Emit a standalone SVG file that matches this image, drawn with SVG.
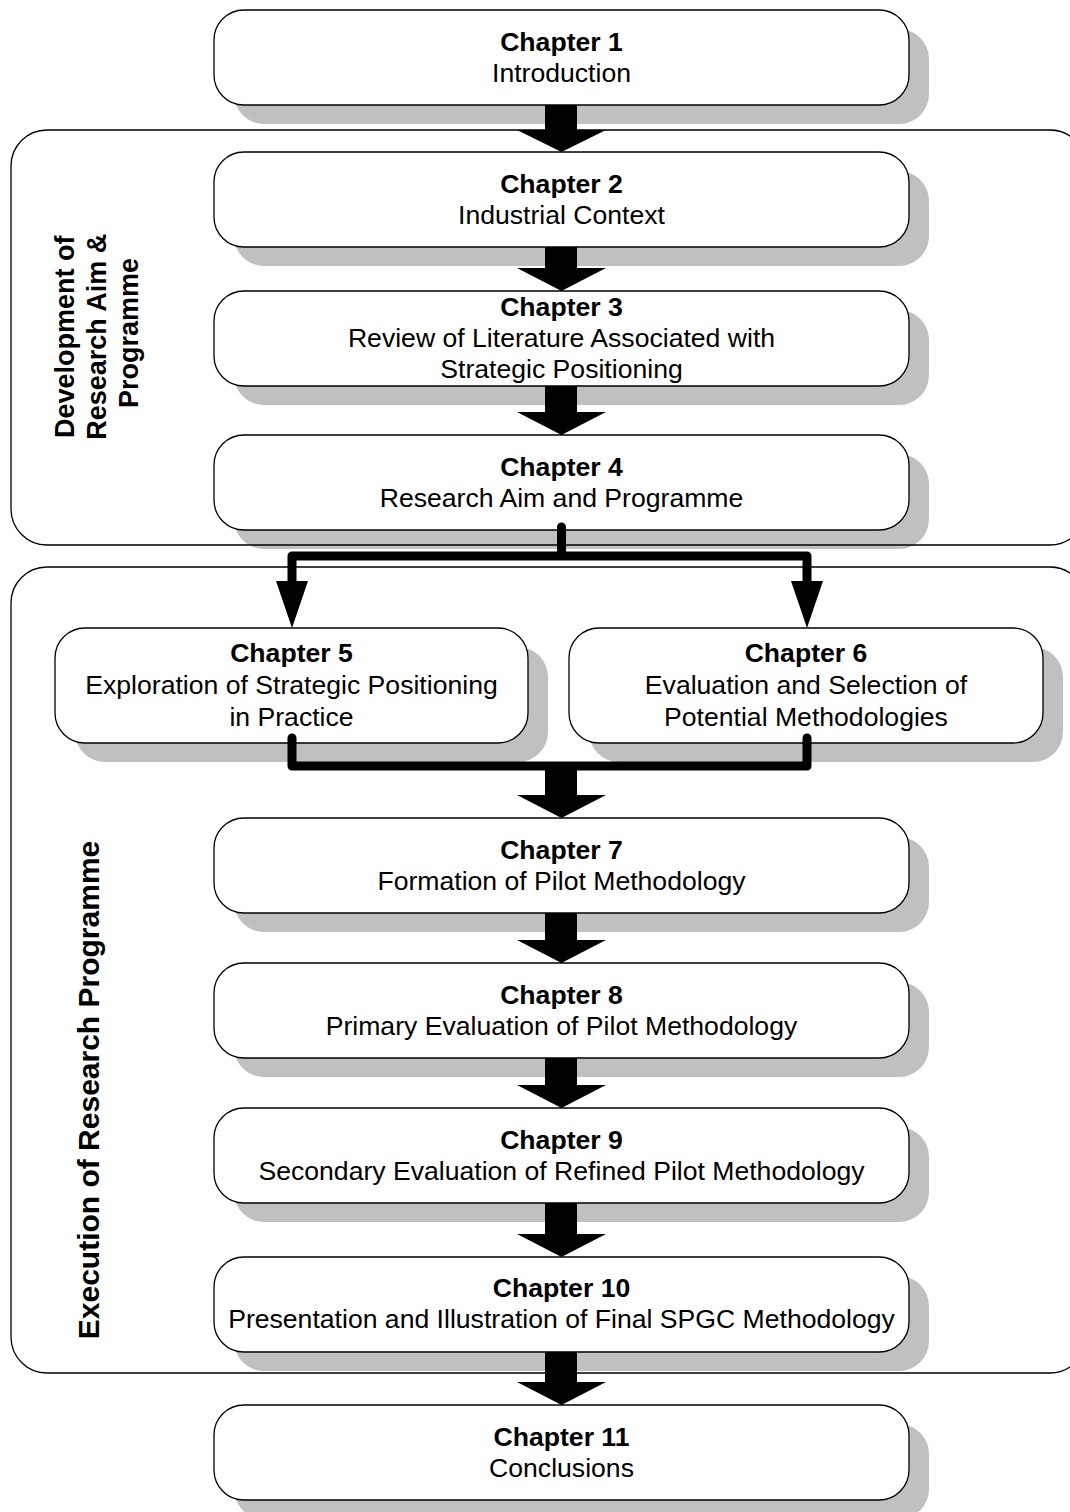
<svg xmlns="http://www.w3.org/2000/svg" width="1070" height="1512" viewBox="0 0 1070 1512">
  <style>
    .shd{fill:#c0c0c0}
    .box{fill:#fff;stroke:#000;stroke-width:1.3}
    .grp{fill:none;stroke:#000;stroke-width:1.3}
    .t{font-family:"Liberation Sans",Arial,Helvetica,sans-serif;font-size:26.6px;text-anchor:middle;fill:#000}
    .b{font-weight:bold}
    .lbl{font-size:27px}
    .lbl2{font-size:30px}
    .arr{fill:#000}
    .wire{fill:none;stroke:#000;stroke-width:9;stroke-linecap:round;stroke-linejoin:round}
  </style>

  <rect width="1070" height="1512" fill="#fff"/>

  <!-- chapter nodes: shadow, box, text -->
  <g id="ch1">
    <rect class="shd" x="234" y="29" width="695" height="95" rx="30"/>
    <rect class="box" x="214" y="10" width="695" height="95" rx="30"/>
    <text class="t b" x="561.5" y="51">Chapter 1</text>
    <text class="t" x="561.5" y="82">Introduction</text>
  </g>
  <g id="ch2">
    <rect class="shd" x="234" y="171" width="695" height="95" rx="30"/>
    <rect class="box" x="214" y="152" width="695" height="95" rx="30"/>
    <text class="t b" x="561.5" y="193">Chapter 2</text>
    <text class="t" x="561.5" y="224">Industrial Context</text>
  </g>
  <g id="ch3">
    <rect class="shd" x="234" y="310" width="695" height="95" rx="30"/>
    <rect class="box" x="214" y="291" width="695" height="95" rx="30"/>
    <text class="t b" x="561.5" y="316">Chapter 3</text>
    <text class="t" x="561.5" y="347">Review of Literature Associated with</text>
    <text class="t" x="561.5" y="378">Strategic Positioning</text>
  </g>
  <g id="ch4">
    <rect class="shd" x="234" y="454" width="695" height="95" rx="30"/>
    <rect class="box" x="214" y="435" width="695" height="95" rx="30"/>
    <text class="t b" x="561.5" y="476">Chapter 4</text>
    <text class="t" x="561.5" y="507">Research Aim and Programme</text>
  </g>
  <g id="ch5">
    <rect class="shd" x="75" y="647" width="473" height="115" rx="30"/>
    <rect class="box" x="55" y="628" width="473" height="115" rx="30"/>
    <text class="t b" x="291.5" y="662">Chapter 5</text>
    <text class="t" x="291.5" y="694">Exploration of Strategic Positioning</text>
    <text class="t" x="291.5" y="726">in Practice</text>
  </g>
  <g id="ch6">
    <rect class="shd" x="589" y="647" width="474" height="115" rx="30"/>
    <rect class="box" x="569" y="628" width="474" height="115" rx="30"/>
    <text class="t b" x="806" y="662">Chapter 6</text>
    <text class="t" x="806" y="694">Evaluation and Selection of</text>
    <text class="t" x="806" y="726">Potential Methodologies</text>
  </g>
  <g id="ch7">
    <rect class="shd" x="234" y="837" width="695" height="95" rx="30"/>
    <rect class="box" x="214" y="818" width="695" height="95" rx="30"/>
    <text class="t b" x="561.5" y="859">Chapter 7</text>
    <text class="t" x="561.5" y="890">Formation of Pilot Methodology</text>
  </g>
  <g id="ch8">
    <rect class="shd" x="234" y="982" width="695" height="95" rx="30"/>
    <rect class="box" x="214" y="963" width="695" height="95" rx="30"/>
    <text class="t b" x="561.5" y="1004">Chapter 8</text>
    <text class="t" x="561.5" y="1035">Primary Evaluation of Pilot Methodology</text>
  </g>
  <g id="ch9">
    <rect class="shd" x="234" y="1127" width="695" height="95" rx="30"/>
    <rect class="box" x="214" y="1108" width="695" height="95" rx="30"/>
    <text class="t b" x="561.5" y="1149">Chapter 9</text>
    <text class="t" x="561.5" y="1180">Secondary Evaluation of Refined Pilot Methodology</text>
  </g>
  <g id="ch10">
    <rect class="shd" x="234" y="1276" width="695" height="95" rx="30"/>
    <rect class="box" x="214" y="1257" width="695" height="95" rx="30"/>
    <text class="t b" x="561.5" y="1297">Chapter 10</text>
    <text class="t" x="561.5" y="1328">Presentation and Illustration of Final SPGC Methodology</text>
  </g>
  <g id="ch11">
    <rect class="shd" x="234" y="1424" width="695" height="95" rx="30"/>
    <rect class="box" x="214" y="1405" width="695" height="95" rx="30"/>
    <text class="t b" x="561.5" y="1446">Chapter 11</text>
    <text class="t" x="561.5" y="1477">Conclusions</text>
  </g>

  <!-- phase groupings -->
  <g id="phase-development">
    <rect class="grp" x="11" y="130" width="1075" height="415" rx="36"/>
    <text class="t b lbl" transform="translate(97 333) rotate(-90)">
      <tspan x="0" y="-23">Development of</tspan>
      <tspan x="0" y="9">Research Aim &amp;</tspan>
      <tspan x="0" y="41">Programme</tspan>
    </text>
  </g>
  <g id="phase-execution">
    <rect class="grp" x="11" y="567" width="1075" height="806" rx="36"/>
    <text class="t b lbl2" transform="translate(99 1090) rotate(-90)">Execution of Research Programme</text>
  </g>

  <!-- connectors -->
  <g id="connectors">
    <polygon class="arr" points="545,105 577,105 577,130 606,130 561.5,152 517,130 545,130"/>
    <polygon class="arr" points="545,247 577,247 577,268 606,268 561.5,291 517,268 545,268"/>
    <polygon class="arr" points="545,386 577,386 577,412 606,412 561.5,435 517,412 545,412"/>

    <path class="wire" d="M561.5,527 V556 H292 V584 M561.5,556 H807 V584"/>
    <polygon class="arr" points="276,581 308,581 292,628"/>
    <polygon class="arr" points="791,581 823,581 807,628"/>

    <path class="wire" d="M292,738 V766 H807 V738"/>
    <polygon class="arr" points="545,766 577,766 577,795 606,795 561.5,818 517,795 545,795"/>

    <polygon class="arr" points="545,913 577,913 577,940 606,940 561.5,963 517,940 545,940"/>
    <polygon class="arr" points="545,1058 577,1058 577,1085 606,1085 561.5,1108 517,1085 545,1085"/>
    <polygon class="arr" points="545,1203 577,1203 577,1234 606,1234 561.5,1257 517,1234 545,1234"/>
    <polygon class="arr" points="545,1352 577,1352 577,1382 606,1382 561.5,1405 517,1382 545,1382"/>
  </g>
</svg>
